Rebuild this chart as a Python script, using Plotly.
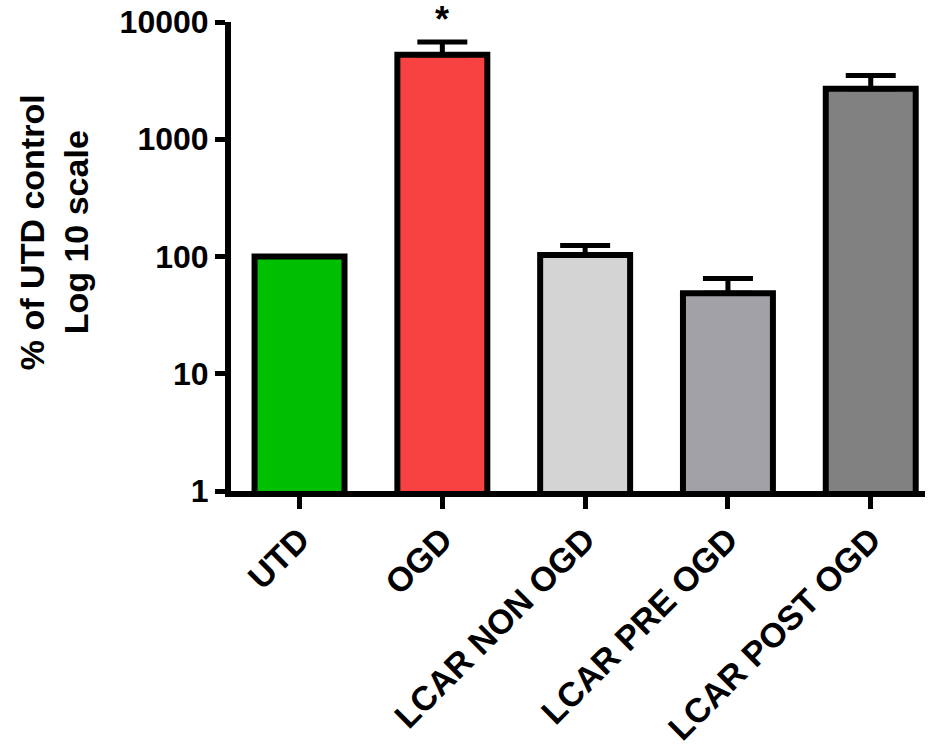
import plotly.graph_objects as go

categories = ["UTD", "OGD", "LCAR NON OGD", "LCAR PRE OGD", "LCAR POST OGD"]
means = [100, 5250, 103, 48.5, 2700]
upper_err = [0, 1500, 21, 16.5, 800]
bar_colors = ["#00BE00", "#F84242", "#D4D4D4", "#A2A1A6", "#818181"]
y_tickvals = [1, 10, 100, 1000, 10000]
y_ticktext = ["1", "10", "100", "1000", "10000"]

FONT = "Arial, 'Liberation Sans', sans-serif"

fig = go.Figure()
fig.add_trace(go.Bar(
    x=categories, y=means,
    marker=dict(color=bar_colors, line=dict(color="black", width=6)),
    width=0.63,
    error_y=dict(type="data", array=upper_err, arrayminus=[0]*5, symmetric=False,
                 color="black", thickness=5, width=25),
))

fig.add_annotation(x="OGD", y=1.005, yref="paper", text="<b>*</b>", showarrow=False,
                   font=dict(size=36, color="black", family=FONT), yanchor="middle")

# y-axis title
fig.add_annotation(x=-0.255, y=0.552, xref="paper", yref="paper",
                   text="<b>% of UTD control<br>Log 10 scale</b>", textangle=-90,
                   showarrow=False, xanchor="center", yanchor="middle",
                   font=dict(size=34, color="black", family=FONT))

fig.update_layout(
    width=930, height=754,
    margin=dict(l=231, r=5, t=22, b=263),
    plot_bgcolor="white", paper_bgcolor="white",
    showlegend=False,
    font=dict(family=FONT, color="black"),
)
fig.update_yaxes(
    type="log", range=[0, 4], automargin=False,
    tickvals=y_tickvals, ticktext=["<b>%s</b>" % t for t in y_ticktext],
    tickfont=dict(size=32, family=FONT, color="black"),
    ticks="outside", ticklen=10, tickwidth=5, tickcolor="black",
    showline=True, linewidth=6, linecolor="black",
    showgrid=False, zeroline=False,
)
fig.update_xaxes(
    range=[-0.48, 4.38], automargin=False,
    tickangle=-45,
    tickfont=dict(size=34, family=FONT, color="black"),
    ticktext=["<b>%s</b>" % c for c in categories], tickvals=categories,
    ticks="outside", ticklen=12, tickwidth=5, tickcolor="black",
    ticklabelstandoff=-3,
    showline=True, linewidth=6, linecolor="black",
    showgrid=False,
)

fig.write_html("out.html")
